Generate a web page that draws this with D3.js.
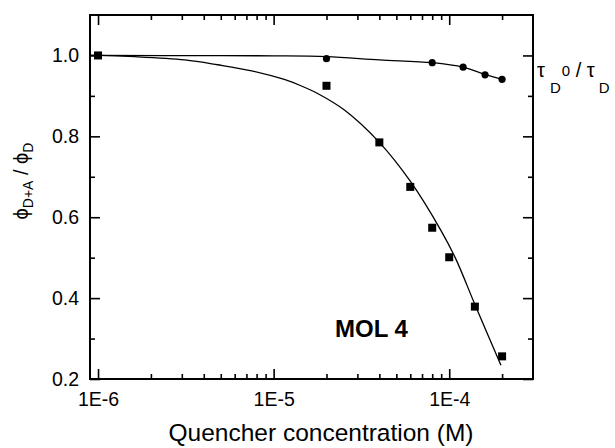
<!DOCTYPE html>
<html>
<head>
<meta charset="utf-8">
<script src="https://cdn.jsdelivr.net/npm/d3@7"></script>
<style>
  body { margin: 0; background: #fff; }
  svg { display: block; }
  text { font-family: "Liberation Sans", Arial, sans-serif; fill: #000; }
</style>
</head>
<body>
<svg id="chart" width="615" height="448"></svg>
<script>
// Quantum-yield ratio phi(D+A)/phi(D) against quencher concentration (M)
const phiConc  = [1e-6, 2e-5, 4e-5, 6e-5, 8e-5, 1e-4, 1.4e-4, 2e-4];
const phiRatio = [1.0, 0.925, 0.785, 0.675, 0.574, 0.501, 0.379, 0.256];

// Lifetime ratio tau_D0 / tau_D
const tauConc  = [2e-5, 8e-5, 1.2e-4, 1.6e-4, 2e-4];
const tauRatio = [0.992, 0.982, 0.971, 0.952, 0.941];

// Fitted curve through the quantum-yield points
const phiFitConc = [9e-7, 1e-6, 1.62e-6, 3.12e-6, 4.8e-6, 7.5e-6, 1.15e-5, 1.44e-5, 1.78e-5,
                    2.53e-5, 4e-5, 6e-5, 8.98e-5, 1.09e-4, 1.41e-4, 1.97e-4];
const phiFit     = [1.0, 1.0, 0.997, 0.989, 0.977, 0.962, 0.9406, 0.9245, 0.9059,
                    0.865, 0.785, 0.689, 0.567, 0.497, 0.381, 0.234];

// Fitted curve through the lifetime points
const tauFitConc = [9e-7, 1e-6, 5e-6, 1e-5, 2e-5, 4e-5, 8e-5, 1.2e-4, 1.6e-4, 2e-4];
const tauFit     = [1.0, 1.0, 0.9995, 0.999, 0.997, 0.989, 0.982, 0.971, 0.953, 0.941];

// Axis ticks
const xMajorTicks = [1e-6, 1e-5, 1e-4];
const xMajorLabels = ["1E-6", "1E-5", "1E-4"];
const xMinorTicks = [2e-6, 3e-6, 4e-6, 5e-6, 6e-6, 7e-6, 8e-6, 9e-6,
                     2e-5, 3e-5, 4e-5, 5e-5, 6e-5, 7e-5, 8e-5, 9e-5, 2e-4];
const yMajorTicks = [0.2, 0.4, 0.6, 0.8, 1.0];
const yMinorTicks = [0.3, 0.5, 0.7, 0.9];

const svg = d3.select("#chart");
const plotL = 90, plotR = 533, plotT = 15, plotB = 379;

const x = d3.scaleLog().domain([9e-7, 3e-4]).range([plotL, plotR]);
const y = d3.scaleLinear().domain([0.2, 1.1]).range([plotB, plotT]);

const fontTick = 19.5;

// Bottom axis: inward major and minor ticks with labels
const gB = svg.append("g").attr("transform", `translate(0,${plotB})`);
gB.call(d3.axisBottom(x).tickValues(xMajorTicks).tickSize(-10).tickPadding(13)
    .tickFormat((d, i) => xMajorLabels[i]));
gB.append("g").call(d3.axisBottom(x).tickValues(xMinorTicks).tickSize(-5).tickFormat(""));

// Top axis (mirrored ticks, no labels)
const gT = svg.append("g").attr("transform", `translate(0,${plotT})`);
gT.call(d3.axisTop(x).tickValues(xMajorTicks).tickSize(-10).tickFormat(""));
gT.append("g").call(d3.axisTop(x).tickValues(xMinorTicks).tickSize(-5).tickFormat(""));

// Left axis
const gL = svg.append("g").attr("transform", `translate(${plotL},0)`);
gL.call(d3.axisLeft(y).tickValues(yMajorTicks).tickSize(-10).tickPadding(11).tickFormat(d3.format(".1f")));
gL.append("g").call(d3.axisLeft(y).tickValues(yMinorTicks).tickSize(-5).tickFormat(""));

// Right axis (mirrored ticks, no labels)
const gR = svg.append("g").attr("transform", `translate(${plotR},0)`);
gR.call(d3.axisRight(y).tickValues(yMajorTicks).tickSize(-10).tickFormat(""));
gR.append("g").call(d3.axisRight(y).tickValues(yMinorTicks).tickSize(-5).tickFormat(""));

svg.selectAll(".domain").remove();
svg.selectAll(".tick line").attr("stroke", "#000").attr("stroke-width", 1.6);
svg.selectAll(".tick text").attr("font-size", fontTick)
   .attr("font-family", "'Liberation Sans', Arial, sans-serif").attr("fill", "#000");

// Frame
svg.append("rect")
  .attr("x", plotL).attr("y", plotT)
  .attr("width", plotR - plotL).attr("height", plotB - plotT)
  .attr("fill", "none").attr("stroke", "#000").attr("stroke-width", 2);

// Fitted curves
const line = d3.line().x(d => x(d[0])).y(d => y(d[1])).curve(d3.curveCatmullRom.alpha(0.5));
svg.append("path")
  .datum(phiFitConc.map((c, i) => [c, phiFit[i]]))
  .attr("d", line).attr("fill", "none").attr("stroke", "#000").attr("stroke-width", 1.3);
svg.append("path")
  .datum(tauFitConc.map((c, i) => [c, tauFit[i]]))
  .attr("d", line).attr("fill", "none").attr("stroke", "#000").attr("stroke-width", 1.3);

// Square markers: quantum-yield ratio
const sq = 8;
svg.append("g").selectAll("rect")
  .data(phiConc.map((c, i) => [c, phiRatio[i]]))
  .join("rect")
  .attr("x", d => x(d[0]) - sq / 2).attr("y", d => y(d[1]) - sq / 2)
  .attr("width", sq).attr("height", sq).attr("fill", "#000");

// Circle markers: lifetime ratio
svg.append("g").selectAll("circle")
  .data(tauConc.map((c, i) => [c, tauRatio[i]]))
  .join("circle")
  .attr("cx", d => x(d[0])).attr("cy", d => y(d[1]))
  .attr("r", 3.6).attr("fill", "#000");

// X axis title
svg.append("text")
  .attr("x", 321).attr("y", 441)
  .attr("text-anchor", "middle").attr("font-size", 24.5)
  .text("Quencher concentration (M)");

// Y axis title: phi_{D+A} / phi_D
const yt = svg.append("text")
  .attr("transform", "translate(28,181) rotate(-90)")
  .attr("text-anchor", "middle").attr("font-size", 20);
yt.append("tspan").text("\u03D5");
yt.append("tspan").attr("font-size", 14).attr("dy", 5).text("D+A");
yt.append("tspan").attr("dy", -5).text(" / \u03D5");
yt.append("tspan").attr("font-size", 14).attr("dy", 5).text("D");

// Right-hand title: tau_D^0 / tau_D
const rt = svg.append("text")
  .attr("x", 537).attr("y", 77).attr("font-size", 20);
rt.append("tspan").text("\u03C4");
rt.append("tspan").attr("font-size", 15).attr("dy", 16).attr("dx", 5).text("D");
rt.append("tspan").attr("font-size", 15).attr("dy", -17).attr("dx", 1).text("0");
rt.append("tspan").attr("dy", 1).text(" / \u03C4");
rt.append("tspan").attr("font-size", 15).attr("dy", 16).attr("dx", 4).text("D");

// Panel label
svg.append("text")
  .attr("x", 335).attr("y", 337)
  .attr("font-size", 24).attr("font-weight", "bold")
  .text("MOL 4");
</script>
</body>
</html>
